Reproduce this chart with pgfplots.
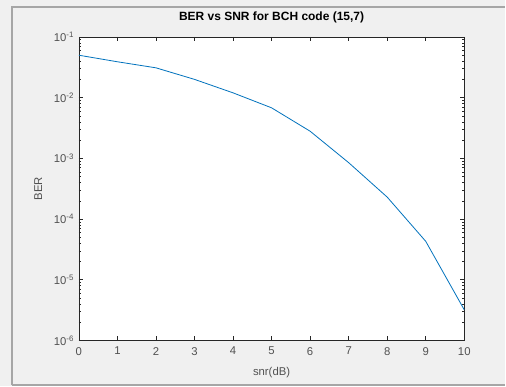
\documentclass[border=0pt]{standalone}
\usepackage{pgfplots}
\pgfplotsset{compat=1.18}
\usepackage{fontspec}
\setmainfont{Liberation Sans}
\definecolor{figbg}{RGB}{240,240,240}
\definecolor{mblue}{RGB}{0,114,189}
\definecolor{axgray}{RGB}{38,38,38}
\begin{document}
\begin{tikzpicture}[x=1pt,y=1pt]
\fill[figbg] (0,0) rectangle (379.5,290.25);
\draw[gray!70,line width=1.2pt] (9,1) -- (9,285) -- (379.5,285);
\draw[gray!70,line width=1.2pt] (9,1.2) -- (379.5,1.2);
\begin{axis}[
  scale only axis,
  width=289.5pt, height=228pt,
  at={(59.25pt,34.5pt)}, anchor=south west,
  ymode=log,
  xmin=0, xmax=10, ymin=1e-6, ymax=1e-1,
  xtick={0,1,...,10},
  ytick={1e-6,1e-5,1e-4,1e-3,1e-2,1e-1},
  tick align=inside,
  tick pos=both,
  major tick length=3pt,
  minor tick length=1.6pt,
  axis background/.style={fill=white},
  axis line style={axgray, line width=0.5pt},
  every tick/.style={axgray, line width=0.4pt},
  tick label style={font=\fontsize{8.5}{10}\selectfont, text=axgray!80},
  xticklabel style={yshift=-1.5pt},
  /pgf/number format/assume math mode=true,
  log number format basis/.code 2 args={#1\textsuperscript{\pgfmathprintnumber{#2}}},
  title={\textbf{BER vs SNR for BCH code (15,7)}},
  title style={font=\fontsize{9}{11}\selectfont, yshift=1pt},
  xlabel={snr(dB)},
  ylabel={BER},
  label style={font=\fontsize{8.5}{10}\selectfont, text=axgray!80},
  xlabel style={yshift=-2pt},
  ylabel style={yshift=2pt},
]
\addplot[mblue, line width=0.6pt] coordinates {
(0,0.050) (1,0.039) (2,0.031) (3,0.020) (4,0.012) (5,0.0068)
(6,0.0028) (7,0.00085) (8,0.00023) (9,0.000043) (10,0.0000032)
};
\end{axis}
\end{tikzpicture}
\end{document}
